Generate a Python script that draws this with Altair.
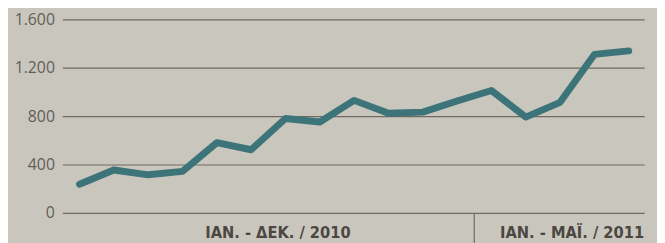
import altair as alt
import pandas as pd

months = list(range(1, 18))
values = [237, 355, 315, 343, 580, 522, 780, 751, 930, 824, 833, 925, 1012, 792, 914, 1310, 1339]
period_labels = ["ΙΑΝ. - ΔΕΚ. / 2010", "ΙΑΝ. - ΜΑΪ. / 2011"]
period_centers = [6.78, 15.35]
y_ticks = [0, 400, 800, 1200, 1600]
separator_x = [12.5]

df = pd.DataFrame({"m": months, "v": values})
lab = pd.DataFrame({"label": period_labels, "x": period_centers})
sep = pd.DataFrame({"x": separator_x})

xscale = alt.Scale(domain=[0.5, 17.45], nice=False, zero=False)
yscale = alt.Scale(domain=[0, 1600], nice=False)

line = alt.Chart(df).mark_line(
    color="#3d7479", strokeWidth=7, strokeCap="round", strokeJoin="round"
).encode(
    x=alt.X("m:Q", scale=xscale, axis=None),
    y=alt.Y(
        "v:Q",
        scale=yscale,
        axis=alt.Axis(
            values=y_ticks,
            title=None,
            domain=False,
            ticks=False,
            grid=True,
            gridColor="#6f6b63",
            gridWidth=1.2,
            gridOpacity=1,
            labelPadding=8,
            labelFont="Open Sans",
            labelFontSize=16,
            labelColor="#625e57",
            labelExpr="replace(format(datum.value, ','), ',', '.')",
        ),
    ),
)

text = alt.Chart(lab).mark_text(
    font="DejaVu Sans Condensed", fontWeight="bold", fontSize=16.5, color="#4b4843",
    baseline="alphabetic", align="center"
).encode(
    x=alt.X("x:Q", scale=xscale),
    y=alt.value(221),
    text="label:N",
)

rule = alt.Chart(sep).mark_rule(color="#6f6b63", strokeWidth=1.2).encode(
    x=alt.X("x:Q", scale=xscale),
    y=alt.value(196),
    y2=alt.value(235),
)

chart = alt.layer(line, rule, text).properties(
    width=589,
    height=196,
    padding={"left": 55, "top": 10, "right": 13, "bottom": 29},
    autosize=alt.AutoSizeParams(type="none"),
    background="#c9c7bd",
).configure_view(stroke=None)

chart.save("out.html", embed_options={"renderer": "svg", "actions": False})
